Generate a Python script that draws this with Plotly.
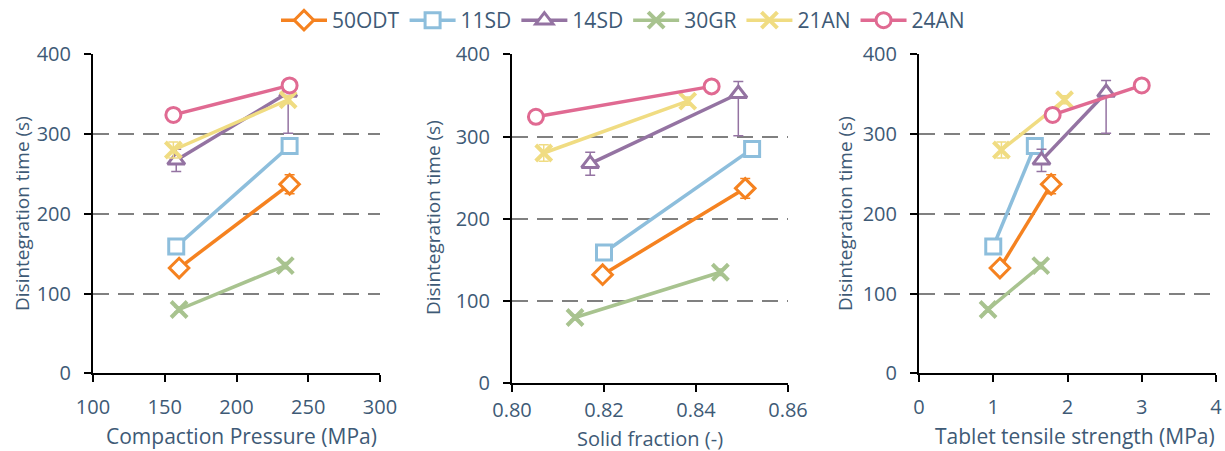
import plotly.graph_objects as go

# ---- data ----
series = ["50ODT", "11SD", "14SD", "30GR", "21AN", "24AN"]
colors = ["#F58220", "#8DBEDC", "#9473A2", "#A8C38F", "#F0DC82", "#E06A92"]
symbols = ["diamond", "square", "triangle-up", "x-thin", "x-thin", "circle"]

disint_time = {
    "50ODT": [132, 237],
    "11SD": [159, 285],
    "14SD": [267, 352],
    "30GR": [80, 135],
    "21AN": [280, 343],
    "24AN": [324, 361],
}
err_plus = {
    "50ODT": [4, 12], "11SD": [4, 8], "14SD": [14, 15],
    "30GR": [3, 4], "21AN": [10, 5], "24AN": [4, 4],
}
err_minus = {
    "50ODT": [4, 12], "11SD": [4, 8], "14SD": [14, 51],
    "30GR": [3, 4], "21AN": [10, 5], "24AN": [4, 4],
}
compaction_pressure = {
    "50ODT": [160, 237], "11SD": [158, 237], "14SD": [158, 236],
    "30GR": [160, 234], "21AN": [156, 236], "24AN": [156, 237],
}
solid_fraction = {
    "50ODT": [0.8197, 0.8507], "11SD": [0.8200, 0.8522], "14SD": [0.8170, 0.8492],
    "30GR": [0.8137, 0.8453], "21AN": [0.8069, 0.8382], "24AN": [0.8052, 0.8434],
}
tensile_strength = {
    "50ODT": [1.09, 1.78], "11SD": [1.00, 1.56], "14SD": [1.65, 2.52],
    "30GR": [0.93, 1.64], "21AN": [1.11, 1.96], "24AN": [1.80, 3.00],
}
x_titles = ["Compaction Pressure (MPa)", "Solid fraction (-)", "Tablet tensile strength (MPa)"]
y_title = "Disintegration time (s)"

panels = [
    ("x", "y", compaction_pressure),
    ("x2", "y2", solid_fraction),
    ("x3", "y3", tensile_strength),
]

TXT = "#3E5A76"
FONT = "Open Sans"
W, H = 1225, 451

fig = go.Figure()
for pi, (xa, ya, xdata) in enumerate(panels):
    for s, c, sym in zip(series, colors, symbols):
        is_x = sym.startswith("x")
        marker = dict(
            symbol=sym,
            size=16 if is_x else 15,
            color="white",
            line=dict(color=c, width=4 if is_x else 3),
        )
        fig.add_trace(go.Scatter(
            x=xdata[s], y=disint_time[s], xaxis=xa, yaxis=ya,
            mode="lines+markers", name=s, legendgroup=s,
            showlegend=(pi == 0),
            line=dict(color=c, width=3.5),
            marker=marker,
            error_y=dict(type="data", symmetric=False, array=err_plus[s],
                         arrayminus=err_minus[s], color=c, thickness=1.5, width=5),
        ))

def yax(y0_px, anchor):
    return dict(
        domain=[(H - y0_px) / H, (H - 54.3) / H], anchor=anchor, range=[0, 400],
        tickvals=[0, 100, 200, 300, 400], showline=True, linecolor="black",
        linewidth=2, ticks="outside", ticklen=7, tickwidth=2, tickcolor="black",
        showgrid=True, gridcolor="#808080", griddash="16px,9px", gridwidth=2,
        zeroline=False, automargin=False,
        tickfont=dict(family=FONT, size=20, color=TXT),
        ticklabelstandoff=9,
    )

def xax(x0, x1, anchor, rng, tickvals, ticktext, standoff_lbl):
    return dict(
        domain=[x0 / W, x1 / W], anchor=anchor, range=rng, tickvals=tickvals,
        ticktext=ticktext,
        showline=True, linecolor="black", linewidth=2, ticks="outside", ticklen=7,
        tickwidth=2, tickcolor="black", showgrid=False, zeroline=False,
        automargin=False,
        tickfont=dict(family=FONT, size=20, color=TXT),
        ticklabelstandoff=standoff_lbl,
    )

annotations = []
# axis titles (positions in pixels of the page)
for title, cx, cy, fs in zip(x_titles, [241, 650, 1075], [436, 438, 436], [21, 20, 21]):
    annotations.append(dict(text=title, x=cx / W, y=(H - cy) / H, xref="paper",
                            yref="paper", xanchor="center", yanchor="middle",
                            showarrow=False, font=dict(family=FONT, size=fs, color=TXT)))
for cx, cy in zip([22, 433, 845], [214, 218, 214]):
    annotations.append(dict(text=y_title, x=cx / W, y=(H - cy) / H, xref="paper",
                            yref="paper", xanchor="center", yanchor="middle",
                            textangle=-90, showarrow=False,
                            font=dict(family=FONT, size=19, color=TXT)))

fig.update_layout(
    width=W, height=H,
    margin=dict(l=0, r=0, t=0, b=0, autoexpand=False),
    paper_bgcolor="white", plot_bgcolor="white",
    showlegend=True,
    legend=dict(orientation="h", x=623 / W, xanchor="center", y=1.0, yanchor="top",
                font=dict(family=FONT, size=21, color=TXT), itemwidth=46,
                tracegroupgap=0),
    xaxis=xax(93, 380, "y", [100, 300], [100, 150, 200, 250, 300],
              ["100", "150", "200", "250", "300"], 8),
    yaxis=yax(373.3, "x"),
    xaxis2=xax(512, 788, "y2", [0.80, 0.86], [0.80, 0.82, 0.84, 0.86],
               ["0.80", "0.82", "0.84", "0.86"], 1),
    yaxis2=yax(383.3, "x2"),
    xaxis3=xax(919, 1216, "y3", [0, 4], [0, 1, 2, 3, 4],
               ["0", "1", "2", "3", "4"], 8),
    yaxis3=yax(373.3, "x3"),
    annotations=annotations,
)

fig.write_html("out.html", config={"displayModeBar": False},
               post_script="document.body.style.margin='0';")
